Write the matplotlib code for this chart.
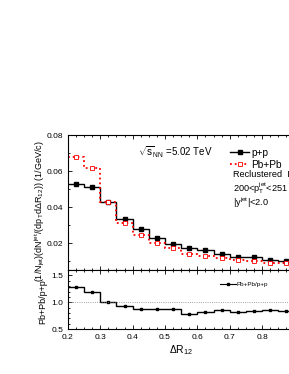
import matplotlib.pyplot as plt
from matplotlib.ticker import MultipleLocator

plt.rcParams['font.family'] = ['Liberation Sans', 'DejaVu Sans']
plt.rcParams['mathtext.fontset'] = 'custom'
plt.rcParams['mathtext.rm'] = 'Liberation Sans'
plt.rcParams['mathtext.it'] = 'Liberation Sans'

edges = [0.2, 0.25, 0.3, 0.35, 0.4, 0.45, 0.5, 0.55, 0.6, 0.65, 0.7, 0.75, 0.8, 0.85, 0.9]
centers = [0.225, 0.275, 0.325, 0.375, 0.425, 0.475, 0.525, 0.575, 0.625, 0.675, 0.725, 0.775, 0.825, 0.875]
pp = [0.0527, 0.0513, 0.0426, 0.0335, 0.0276, 0.0229, 0.0196, 0.0172, 0.0159, 0.0139, 0.0124, 0.0120, 0.0103, 0.0100]
pbpb = [0.0676, 0.0617, 0.0426, 0.0314, 0.0244, 0.0200, 0.0170, 0.0139, 0.0130, 0.0118, 0.0103, 0.0100, 0.0089, 0.0087]
ratio = [1.28, 1.20, 1.00, 0.93, 0.88, 0.87, 0.87, 0.79, 0.82, 0.86, 0.82, 0.84, 0.85, 0.84]
xticks = [0.2, 0.3, 0.4, 0.5, 0.6, 0.7, 0.8]

fig = plt.figure(figsize=(2.89, 3.74), dpi=100)
ax1 = fig.add_axes([0.235, 0.278, 0.784, 0.361])
ax2 = fig.add_axes([0.235, 0.120, 0.784, 0.158], sharex=ax1)

# top panel
ax1.stairs(pp, edges, color='k', lw=1.0, baseline=None)
ax1.plot(centers, pp, 's', color='k', ms=3)
ax1.stairs(pbpb, edges, color='red', lw=1.3, ls=':', baseline=None)
ax1.plot(centers, pbpb, 's', color='red', mfc='white', ms=3.5, mew=0.6)
ax1.set_ylim(0.005, 0.08)
ax1.set_xlim(0.2, 0.9)
ax1.yaxis.set_major_locator(MultipleLocator(0.02))
ax1.yaxis.set_minor_locator(MultipleLocator(0.01))
ax1.set_ylabel(r'(1/N$_{jet}$)(dN$^{jet}$/(dp$_T$d$\Delta$R$_{12}$)) (1/GeV/c)', fontsize=6.5)
ax1.yaxis.set_label_coords(-0.093, 0.433)
plt.setp(ax1.get_xticklabels(), visible=False)

h1, = ax1.plot([], [], '-s', color='k', ms=3, lw=1.0)
h2, = ax1.plot([], [], ':s', color='red', mfc='white', ms=3.5, mew=0.6, lw=1.3)
ax1.legend([h1, h2], ['p+p', 'Pb+Pb'], loc='upper left', bbox_to_anchor=(0.685, 0.96),
           frameon=False, fontsize=7.3, handlelength=1.9, handletextpad=0.15,
           borderpad=0.2, labelspacing=0.2)

ax1.text(0.31, 0.874, r'$\sqrt{s}_{NN}$ =5.02 TeV', transform=ax1.transAxes, fontsize=7, va='center')
ax1.text(0.727, 0.704, 'Reclustered  I', transform=ax1.transAxes, fontsize=6.6, va='center')
ax1.text(0.727, 0.607, r'200<p$_T^{jet}$<251', transform=ax1.transAxes, fontsize=6.6, va='center')
ax1.text(0.727, 0.496, r'|y$^{jet}$|<2.0', transform=ax1.transAxes, fontsize=6.6, va='center')

# ratio panel
ax2.stairs(ratio, edges, color='k', lw=1.0, baseline=None)
ax2.plot(centers, ratio, 's', color='k', ms=1.8)
ax2.axhline(1.0, color='gray', lw=0.6, ls=':')
ax2.set_ylim(0.5, 1.6)
ax2.yaxis.set_major_locator(MultipleLocator(0.5))
ax2.yaxis.set_minor_locator(MultipleLocator(0.1))
ax2.set_xticks(xticks)
ax2.xaxis.set_minor_locator(MultipleLocator(0.025))
ax2.set_ylabel('Pb+Pb/p+p', fontsize=6.5)
ax2.yaxis.set_label_coords(-0.093, 0.46)
ax2.set_xlabel(r'$\Delta$R$_{12}$', fontsize=7.5, labelpad=1.5)
h3, = ax2.plot([], [], '-s', color='k', ms=1.8, lw=0.8)
ax2.legend([h3], ['Pb+Pb/p+p'], loc='center left', bbox_to_anchor=(0.65, 0.75), frameon=False,
           fontsize=4.5, handlelength=2.6, handletextpad=0.05, borderpad=0.2)

for ax in (ax1, ax2):
    ax.tick_params(which='both', direction='in', top=True, right=True, labelsize=6, width=0.6)
    ax.tick_params(which='major', length=3)
    ax.tick_params(which='minor', length=1.6)
    for s in ax.spines.values():
        s.set_linewidth(0.8)

fig.savefig('out.png', dpi=100)
